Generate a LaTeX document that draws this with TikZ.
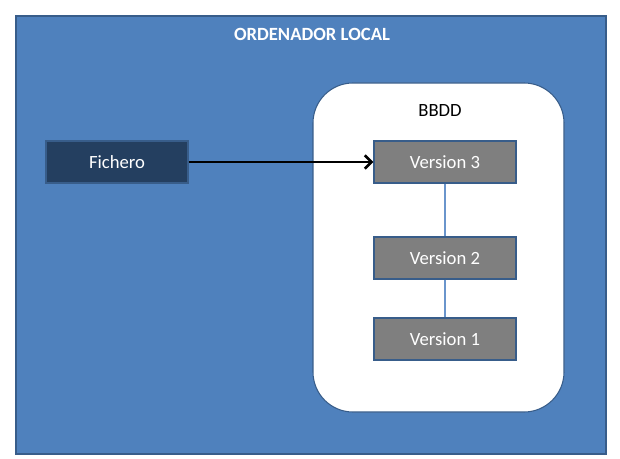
\documentclass[tikz,border=0pt]{standalone}
\usepackage{fontspec}
\setmainfont{Carlito}
\usetikzlibrary{arrows.meta}
\definecolor{pcblue}{HTML}{4F81BD}
\definecolor{pcedge}{HTML}{385D8A}
\definecolor{linkblue}{HTML}{6A95CC}
\definecolor{filenavy}{HTML}{243F60}
\definecolor{versiongray}{HTML}{7F7F7F}
\begin{document}
\begin{tikzpicture}[x=0.75pt, y=-0.75pt,
    txt/.style={text=white, font=\fontsize{14}{16}\selectfont},
    verbox/.style={txt, draw=pcedge, line width=1pt, fill=versiongray, minimum width=106.5pt, minimum height=31.5pt, inner sep=0pt},
    filebox/.style={verbox, fill=filenavy}]
    \useasboundingbox (0,0) rectangle (620,459);
    % ordenador local
    \draw[pcedge, line width=1.2pt, fill=pcblue] (16,16) rectangle (606,454);
    \node[txt, font=\fontsize{14}{16}\bfseries] (titulo) at (312,34) {ORDENADOR LOCAL};
    % base de datos
    \draw[pcedge, line width=0.8pt, fill=white, rounded corners=30pt] (313,83) rectangle (564,412);
    \node[font=\fontsize{14}{16}\selectfont] (bbdd) at (440,111) {BBDD};
    \node[filebox] (fichero) at (117,162) {Fichero};
    \node[verbox] (v3) at (445,162) {Version 3};
    \node[verbox] (v2) at (445,258) {Version 2};
    \node[verbox] (v1) at (445,339) {Version 1};
    \draw[linkblue, line width=0.8pt] (v3) -- (v2) (v2) -- (v1);
    \draw[-{Straight Barb[length=5pt, width=10pt]}, line width=2pt] (fichero.east) -- (v3.west);
\end{tikzpicture}
\end{document}
